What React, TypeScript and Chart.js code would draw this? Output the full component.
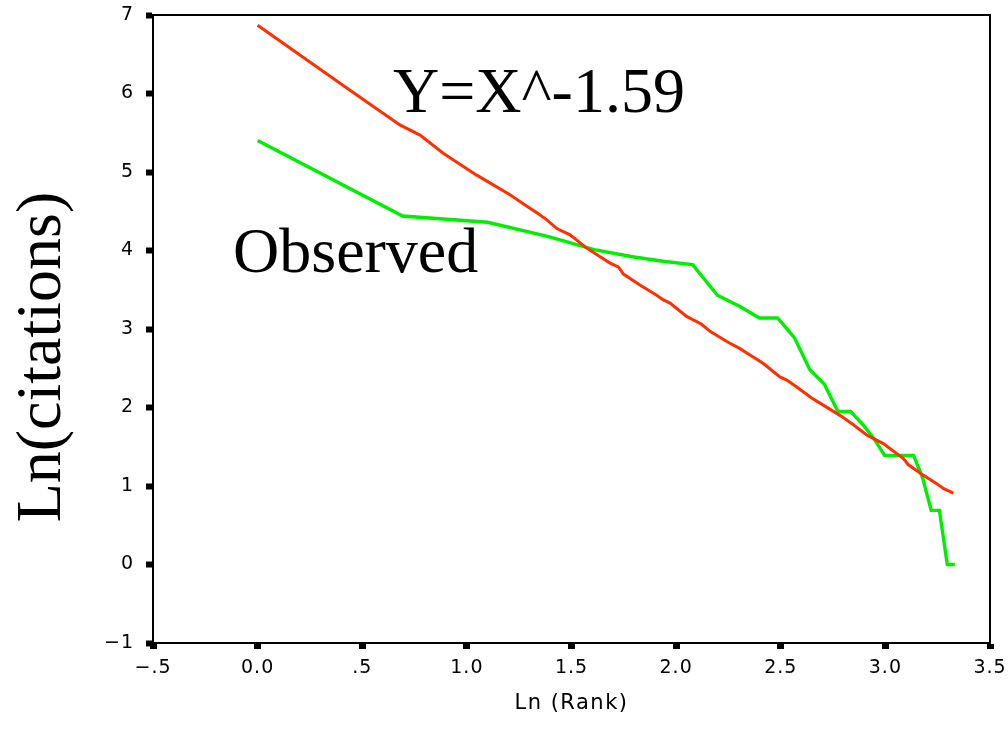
import React, { useEffect, useRef } from "react";
import { Chart, registerables } from "chart.js";

Chart.register(...registerables);

// Observed: ln(rank) for ranks 1..28 and ln(citations)
const observedLnRank = [
  0, 0.693, 1.099, 1.386, 1.609, 1.792, 1.946, 2.079, 2.197, 2.303, 2.398, 2.485, 2.565, 2.639,
  2.708, 2.773, 2.833, 2.89, 2.944, 2.996, 3.045, 3.091, 3.135, 3.178, 3.219, 3.258, 3.296, 3.332,
];
const observedLnCitations = [
  5.4, 4.44, 4.36, 4.18, 4.01, 3.92, 3.86, 3.82, 3.43, 3.29, 3.14, 3.14, 2.89, 2.48,
  2.3, 1.95, 1.95, 1.79, 1.61, 1.39, 1.39, 1.39, 1.39, 1.1, 0.69, 0.69, 0, 0,
];

// Fitted power-law curve (Y = X^-1.59), ln-ln coordinates
const fitLnRank = [
  0, 0.426, 0.68, 0.776, 0.887, 1.047, 1.206, 1.278, 1.34, 1.382, 1.43, 1.493, 1.573, 1.684,
  1.724, 1.748, 1.827, 1.907, 1.939, 1.971, 2.05, 2.122, 2.162, 2.242, 2.305, 2.353, 2.417,
  2.496, 2.529, 2.576, 2.648, 2.703, 2.783, 2.847, 2.911, 2.99, 3.086, 3.11, 3.18, 3.245, 3.277,
  3.325,
];
const fitLnCitations = [
  6.87, 6.07, 5.6, 5.47, 5.24, 4.96, 4.71, 4.58, 4.47, 4.39, 4.28, 4.2, 4.03, 3.84,
  3.79, 3.7, 3.56, 3.43, 3.37, 3.33, 3.16, 3.06, 2.97, 2.84, 2.75, 2.67, 2.56,
  2.39, 2.35, 2.26, 2.12, 2.03, 1.9, 1.78, 1.65, 1.54, 1.35, 1.27, 1.14, 1.03, 0.97,
  0.91,
];

const xTickLabels = ["\u2212.5", "0.0", ".5", "1.0", "1.5", "2.0", "2.5", "3.0", "3.5"];
const yTickLabels = ["\u22121", "0", "1", "2", "3", "4", "5", "6", "7"];

const fitLabel = "Y=X^-1.59";
const observedLabel = "Observed";
const xTitle = "Ln (Rank)";
const yTitle = "Ln(citations)";

const SERIF = '"Liberation Serif", "Times New Roman", serif';
const SANS = '"DejaVu Sans", Verdana, sans-serif';

const annotations = {
  id: "annotations",
  beforeDraw(chart: any) {
    (chart.ctx as any).letterSpacing = "1px";
  },
  afterDraw(chart: any) {
    const ctx = chart.ctx as CanvasRenderingContext2D & { letterSpacing?: string };
    const a = chart.chartArea;
    ctx.save();
    ctx.letterSpacing = "0px";

    // frame around the plot area
    ctx.strokeStyle = "#000";
    ctx.lineWidth = 2;
    ctx.strokeRect(a.left, a.top, a.right - a.left, a.bottom - a.top);

    ctx.fillStyle = "#000";
    ctx.font = `64px ${SERIF}`;
    ctx.textAlign = "left";
    ctx.textBaseline = "alphabetic";
    ctx.fillText(fitLabel, 393, 112);
    ctx.fillText(observedLabel, 233, 272);

    // y-axis title
    ctx.save();
    ctx.translate(60, 357);
    ctx.rotate(-Math.PI / 2);
    ctx.textAlign = "center";
    ctx.fillText(yTitle, 0, 0);
    ctx.restore();

    // x-axis title
    ctx.letterSpacing = "1.5px";
    ctx.font = `21px ${SANS}`;
    ctx.textAlign = "center";
    ctx.textBaseline = "middle";
    ctx.fillText(xTitle, (a.left + a.right) / 2, 704);
    ctx.restore();
    (ctx as any).letterSpacing = "0px";
  },
};

export default function App() {
  const canvasRef = useRef<HTMLCanvasElement | null>(null);

  useEffect(() => {
    document.body.style.margin = "0";
    const canvas = canvasRef.current;
    if (!canvas) return;

    const chart = new Chart(canvas, {
      type: "line",
      data: {
        datasets: [
          {
            label: "Fit",
            data: fitLnRank.map((x, i) => ({ x, y: fitLnCitations[i] })),
            borderColor: "#ff2f00",
            borderWidth: 3,
            pointRadius: 0,
            tension: 0,
            fill: false,
          },
          {
            label: "Observed",
            data: observedLnRank.map((x, i) => ({ x, y: observedLnCitations[i] })),
            borderColor: "#00ee00",
            borderWidth: 3.4,
            pointRadius: 0,
            tension: 0,
            fill: false,
          },
        ],
      },
      options: {
        animation: false,
        responsive: false,
        layout: { padding: { left: 0, top: 15, right: 18, bottom: 0 } },
        plugins: {
          legend: { display: false },
          tooltip: { enabled: false },
        },
        scales: {
          x: {
            type: "linear",
            min: -0.5,
            max: 3.5,
            afterFit(scale: any) {
              scale.height = 100;
              scale.paddingLeft = 0;
              scale.paddingRight = 0;
            },
            ticks: {
              stepSize: 0.5,
              autoSkip: false,
              maxRotation: 0,
              padding: 8,
              color: "#000",
              font: { family: SANS, size: 19 },
              callback: (_v: any, i: number) => xTickLabels[i],
            },
            grid: {
              drawOnChartArea: false,
              drawTicks: true,
              tickLength: 6,
              tickWidth: 7,
              tickColor: "#000",
            },
            border: { display: true, color: "#000", width: 2 },
          },
          y: {
            type: "linear",
            min: -1,
            max: 7,
            afterFit(scale: any) {
              scale.width = 153;
              scale.paddingTop = 0;
              scale.paddingBottom = 0;
            },
            ticks: {
              stepSize: 1,
              autoSkip: false,
              padding: 12,
              color: "#000",
              font: { family: SANS, size: 19 },
              callback: (_v: any, i: number) => yTickLabels[i],
            },
            grid: {
              drawOnChartArea: false,
              drawTicks: true,
              tickLength: 7,
              tickWidth: 6,
              tickColor: "#000",
            },
            border: { display: true, color: "#000", width: 2 },
          },
        },
      },
      plugins: [annotations],
    });

    return () => chart.destroy();
  }, []);

  return (
    <div style={{ width: 1008, height: 743, background: "#fff" }}>
      <canvas ref={canvasRef} width={1008} height={743} style={{ display: "block" }} />
    </div>
  );
}
